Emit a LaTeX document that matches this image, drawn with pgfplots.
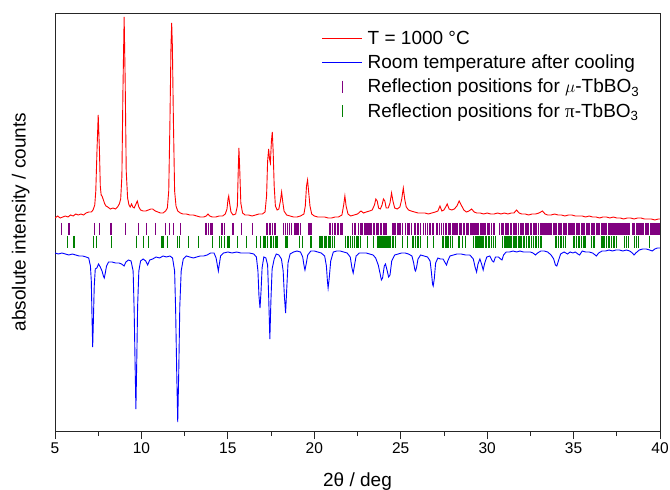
\documentclass[border=0pt]{standalone}
\usepackage{fontspec}
\setmainfont{Liberation Sans}
\newfontfamily\serifgreek{Liberation Serif}
\usepackage{pgfplots}
\pgfplotsset{compat=1.18}
\usepackage{pgfplotstable}
\definecolor{tickpurple}{RGB}{128,0,128}
\definecolor{tickgreen}{RGB}{0,128,0}
\pgfplotsset{
  redline/.style={legend image code/.code={\draw[red, line width=0.7pt] (0pt,0pt) -- (40pt,0pt);}},
  blueline/.style={legend image code/.code={\draw[blue, line width=0.7pt] (0pt,0pt) -- (40pt,0pt);}},
  tickmark/.style={legend image code/.code={\draw[mark repeat=2,mark phase=2,##1] plot coordinates {(0pt,0pt) (20pt,0pt) (40pt,0pt)};}},
}

\pgfplotstableread{
x y
5.00 213
5.15 215
5.30 213
5.45 214
5.60 215
5.75 214
5.90 216
6.05 215
6.20 217
6.35 216
6.50 217
6.65 216
6.80 218
6.95 219
7.10 219
7.20 221
7.30 226
7.36 240
7.43 281
7.50 316
7.57 281
7.62 245
7.67 236
7.72 235
7.80 231
7.88 227
7.95 225
8.05 224
8.20 222
8.35 223
8.50 222
8.62 224
8.72 227
8.80 232
8.87 255
8.93 340
9.00 414
9.06 350
9.12 260
9.20 233
9.28 226
9.35 224
9.43 227
9.50 224
9.58 223
9.66 226
9.76 230
9.85 224
9.95 221
10.10 220
10.25 220
10.40 221
10.55 222
10.65 222
10.80 220
10.95 219
11.10 218
11.25 218
11.40 220
11.50 223
11.58 240
11.65 310
11.71 385
11.75 408
11.79 385
11.85 310
11.92 240
12.00 225
12.10 220
12.25 218
12.40 217
12.60 217
12.80 216
13.00 216
13.20 215
13.40 214
13.60 214
13.75 215
13.85 217
13.95 215
14.10 214
14.30 214
14.50 215
14.70 215
14.85 217
14.95 222
15.01 232
15.05 235
15.10 228
15.18 219
15.30 216
15.45 217
15.55 225
15.60 260
15.64 283
15.69 260
15.75 228
15.85 218
16.00 216
16.20 216
16.40 215
16.60 216
16.80 217
17.00 217
17.15 219
17.24 235
17.30 270
17.36 282
17.41 272
17.46 268
17.52 290
17.57 299
17.62 280
17.68 245
17.75 225
17.85 221
17.95 222
18.04 230
18.11 239
18.17 230
18.25 220
18.40 216
18.60 215
18.80 214
19.00 214
19.20 215
19.40 217
19.48 225
19.55 245
19.61 251
19.67 240
19.75 225
19.85 217
20.00 215
20.20 214
20.40 214
20.60 214
20.80 213
21.00 213
21.20 214
21.40 214
21.60 216
21.70 226
21.77 235
21.84 225
21.95 217
22.10 215
22.30 216
22.50 217
22.70 220
22.85 218
23.00 219
23.20 220
23.35 221
23.48 226
23.56 232
23.64 230
23.72 223
23.82 222
23.92 226
24.00 232
24.08 230
24.16 223
24.28 223
24.38 228
24.47 238
24.55 230
24.65 223
24.80 222
24.95 224
25.05 231
25.15 243
25.23 232
25.32 224
25.45 221
25.60 220
25.80 219
26.00 218
26.20 218
26.40 218
26.60 217
26.80 218
27.00 219
27.15 220
27.27 225
27.38 220
27.50 221
27.60 224
27.69 227
27.80 222
27.95 221
28.10 222
28.25 225
28.38 230
28.50 226
28.65 221
28.80 219
28.95 220
29.10 222
29.25 219
29.40 218
29.60 218
29.80 217
30.00 218
30.20 217
30.40 217
30.60 218
30.80 217
31.00 218
31.20 217
31.40 218
31.55 218
31.70 221
31.85 218
32.00 217
32.20 217
32.40 216
32.60 217
32.80 217
33.00 218
33.20 220
33.35 217
33.50 216
33.70 216
33.90 217
34.10 216
34.30 216
34.50 215
34.70 216
34.90 216
35.10 215
35.30 215
35.50 215
35.70 214
35.90 215
36.10 214
36.30 214
36.50 213
36.70 214
36.90 214
37.10 213
37.30 214
37.50 213
37.70 213
37.90 212
38.10 213
38.30 213
38.50 212
38.70 213
38.90 213
39.10 212
39.30 212
39.50 212
39.70 211
39.90 212
40.00 212
}\redtable

\pgfplotstableread{
x y
5.00 178
5.20 177
5.40 178
5.60 177
5.80 176
6.00 177
6.20 176
6.40 175
6.60 175
6.80 174
6.95 173
7.05 165
7.10 150
7.14 115
7.18 84
7.22 110
7.27 145
7.33 162
7.42 163
7.52 167
7.62 164
7.72 160
7.80 155
7.85 153
7.91 158
7.98 165
8.10 169
8.30 169
8.50 168
8.70 168
8.85 167
9.00 165
9.10 169
9.25 171
9.40 170
9.52 160
9.58 120
9.63 70
9.68 22
9.73 70
9.78 125
9.85 160
9.95 170
10.10 172
10.25 170
10.36 166
10.48 171
10.65 172
10.85 174
11.05 173
11.25 175
11.45 174
11.65 175
11.80 173
11.92 160
11.98 120
12.04 60
12.10 9
12.16 60
12.22 125
12.30 160
12.42 172
12.60 175
12.80 174
13.00 173
13.20 174
13.40 175
13.60 175
13.80 176
14.00 178
14.20 178
14.32 173
14.40 165
14.45 160
14.50 166
14.58 175
14.75 178
15.00 179
15.25 178
15.50 179
15.75 178
16.00 178
16.25 178
16.50 177
16.65 174
16.74 160
16.80 135
16.86 123
16.92 140
16.98 163
17.08 174
17.20 173
17.30 166
17.36 135
17.43 92
17.49 130
17.56 162
17.68 172
17.80 177
17.95 176
18.10 172
18.20 160
18.27 135
18.34 118
18.40 140
18.48 168
18.60 177
18.80 179
19.00 180
19.20 179
19.33 174
19.40 166
19.46 161
19.52 166
19.62 176
19.80 180
20.00 180
20.20 179
20.40 178
20.60 175
20.70 165
20.76 150
20.80 143
20.86 152
20.95 170
21.10 179
21.30 180
21.50 180
21.70 179
21.90 178
22.08 174
22.18 163
22.25 158
22.32 165
22.42 175
22.60 178
22.80 178
23.00 178
23.20 177
23.40 176
23.55 173
23.70 166
23.80 158
23.88 151
23.95 153
24.05 165
24.12 167
24.22 160
24.30 154
24.38 156
24.48 170
24.65 176
24.85 177
25.05 178
25.25 178
25.45 177
25.65 175
25.75 168
25.82 161
25.86 160
25.92 164
26.00 172
26.15 176
26.35 175
26.55 174
26.70 170
26.78 158
26.84 147
26.88 145
26.94 152
27.02 168
27.15 173
27.30 172
27.45 172
27.58 168
27.65 166
27.72 170
27.85 175
28.05 176
28.25 177
28.50 177
28.75 176
29.00 176
29.20 172
29.30 164
29.39 159
29.47 167
29.58 172
29.68 167
29.77 161
29.86 168
29.98 174
30.15 175
30.30 170
30.38 169
30.48 174
30.65 174
30.78 172
30.86 171
30.95 176
31.10 179
31.30 179
31.50 180
31.70 179
31.90 180
32.10 179
32.30 179
32.50 179
32.65 178
32.80 176
32.92 178
33.10 180
33.30 180
33.50 179
33.70 176
33.85 172
33.95 166
34.03 165
34.12 170
34.25 177
34.45 179
34.65 177
34.80 179
34.96 178
35.10 179
35.25 177
35.35 176
35.50 180
35.70 179
35.90 179
36.10 178
36.25 176
36.32 175
36.45 178
36.65 180
36.85 180
37.05 181
37.25 180
37.45 181
37.65 181
37.85 180
38.05 181
38.25 180
38.40 178
38.50 176
38.60 178
38.80 181
39.00 182
39.20 182
39.40 181
39.55 180
39.70 182
39.85 183
40.00 183
}\bluetable

\pgfplotstableread[row sep=\\]{
x y\\
5.39 202\\ 5.81 202\\ 7.31 202\\ 7.60 202\\ 8.24 202\\ 9.09 202\\ 9.82 202\\ 10.30 202\\ 10.82 202\\
11.38 202\\ 11.63 202\\ 11.88 202\\ 12.27 202\\ 13.72 202\\ 13.79 202\\ 13.89 202\\ 13.97 202\\ 14.08 202\\
14.62 202\\ 14.70 202\\ 14.81 202\\ 15.30 202\\ 15.78 202\\ 16.45 202\\ 17.22 202\\ 17.30 202\\ 17.40 202\\
17.49 202\\ 17.58 202\\ 17.70 202\\ 17.78 202\\ 18.23 202\\ 18.33 202\\ 18.45 202\\ 18.55 202\\ 18.68 202\\
18.84 202\\ 18.92 202\\ 19.00 202\\ 19.10 202\\ 19.19 202\\ 19.65 202\\ 19.75 202\\ 19.85 202\\ 20.86 202\\
20.96 202\\ 21.06 202\\ 21.15 202\\ 21.25 202\\ 21.37 202\\ 21.50 202\\ 21.58 202\\ 21.64 202\\ 22.22 202\\
22.32 202\\ 22.41 202\\ 22.55 202\\ 22.70 202\\ 22.80 202\\ 22.90 202\\ 22.97 202\\ 23.05 202\\ 23.12 202\\
23.20 202\\ 23.28 202\\ 23.42 202\\ 23.50 202\\ 23.58 202\\ 23.66 202\\ 23.74 202\\ 23.82 202\\ 23.90 202\\
23.98 202\\ 24.07 202\\ 24.15 202\\ 24.52 202\\ 24.61 202\\ 24.70 202\\ 24.80 202\\ 24.90 202\\ 24.98 202\\
25.10 202\\ 25.28 202\\ 25.40 202\\ 25.48 202\\ 25.60 202\\ 25.80 202\\ 25.86 202\\ 25.95 202\\ 26.05 202\\
26.15 202\\ 26.30 202\\ 26.44 202\\ 26.55 202\\ 26.65 202\\ 26.73 202\\ 26.82 202\\ 26.92 202\\ 27.05 202\\
27.15 202\\ 27.25 202\\ 27.35 202\\ 27.45 202\\ 27.50 202\\ 27.58 202\\ 27.66 202\\ 27.74 202\\ 27.82 202\\
27.90 202\\ 27.98 202\\ 28.06 202\\ 28.14 202\\ 28.22 202\\ 28.30 202\\ 28.38 202\\ 28.46 202\\ 28.54 202\\
28.62 202\\ 28.70 202\\ 28.78 202\\ 28.86 202\\ 28.94 202\\ 29.02 202\\ 29.10 202\\ 29.18 202\\ 29.26 202\\
29.34 202\\ 29.41 202\\ 29.50 202\\ 29.60 202\\ 29.68 202\\ 29.76 202\\ 29.84 202\\ 29.92 202\\ 30.00 202\\
30.08 202\\ 30.16 202\\ 30.27 202\\ 30.35 202\\ 30.43 202\\ 30.74 202\\ 30.82 202\\ 30.89 202\\ 30.95 202\\
31.04 202\\ 31.12 202\\ 31.19 202\\ 31.24 202\\ 31.33 202\\ 31.43 202\\ 31.50 202\\ 31.58 202\\ 31.65 202\\
31.72 202\\ 31.80 202\\ 31.91 202\\ 31.98 202\\ 32.05 202\\ 32.11 202\\ 32.20 202\\ 32.28 202\\ 32.34 202\\
32.40 202\\ 32.49 202\\ 32.59 202\\ 32.66 202\\ 32.74 202\\ 32.81 202\\ 32.88 202\\ 32.97 202\\ 33.07 202\\
33.14 202\\ 33.22 202\\ 33.29 202\\ 33.36 202\\ 33.45 202\\ 33.52 202\\ 33.58 202\\ 33.65 202\\ 33.74 202\\
33.84 202\\ 33.91 202\\ 33.97 202\\ 34.03 202\\ 34.11 202\\ 34.19 202\\ 34.25 202\\ 34.32 202\\ 34.40 202\\
34.47 202\\ 34.54 202\\ 34.61 202\\ 34.69 202\\ 34.76 202\\ 34.80 202\\ 34.88 202\\ 34.96 202\\ 35.02 202\\
35.07 202\\ 35.15 202\\ 35.22 202\\ 35.29 202\\ 35.36 202\\ 35.44 202\\ 35.51 202\\ 35.58 202\\ 35.65 202\\
35.73 202\\ 35.80 202\\ 35.87 202\\ 35.94 202\\ 36.02 202\\ 36.09 202\\ 36.16 202\\ 36.23 202\\ 36.31 202\\
36.38 202\\ 36.45 202\\ 36.52 202\\ 36.60 202\\ 36.66 202\\ 36.71 202\\ 36.79 202\\ 36.86 202\\ 36.93 202\\
37.00 202\\ 37.08 202\\ 37.15 202\\ 37.22 202\\ 37.29 202\\ 37.37 202\\ 37.44 202\\ 37.51 202\\ 37.58 202\\
37.66 202\\ 37.73 202\\ 37.80 202\\ 37.87 202\\ 37.95 202\\ 38.02 202\\ 38.09 202\\ 38.16 202\\ 38.23 202\\
38.42 202\\ 38.49 202\\ 38.55 202\\ 38.62 202\\ 38.68 202\\ 38.74 202\\ 38.81 202\\ 38.87 202\\ 38.93 202\\
39.00 202\\ 39.07 202\\ 39.14 202\\ 39.22 202\\ 39.29 202\\ 39.36 202\\ 39.43 202\\ 39.51 202\\ 39.58 202\\
39.64 202\\ 39.70 202\\ 39.77 202\\ 39.83 202\\ 39.89 202\\ 39.95 202\\
}\mutable

\pgfplotstableread[row sep=\\]{
x y\\
5.73 189\\ 6.10 189\\ 7.22 189\\ 7.41 189\\ 8.28 189\\ 9.72 189\\ 10.11 189\\ 10.40 189\\ 11.19 189\\
11.30 189\\ 11.50 189\\ 12.11 189\\ 12.21 189\\ 12.73 189\\ 13.31 189\\ 14.10 189\\ 14.53 189\\ 14.62 189\\
14.81 189\\ 15.01 189\\ 15.10 189\\ 15.58 189\\ 16.07 189\\ 16.64 189\\ 16.90 189\\ 17.07 189\\ 17.14 189\\
17.20 189\\ 17.30 189\\ 17.45 189\\ 17.55 189\\ 17.65 189\\ 17.75 189\\ 17.84 189\\ 18.36 189\\ 18.42 189\\
19.13 189\\ 19.33 189\\ 19.81 189\\ 20.29 189\\ 20.36 189\\ 20.43 189\\ 20.50 189\\ 20.58 189\\ 20.66 189\\
20.73 189\\ 20.80 189\\ 20.87 189\\ 20.96 189\\ 21.06 189\\ 21.19 189\\ 21.83 189\\ 21.90 189\\ 21.96 189\\
22.08 189\\ 22.22 189\\ 22.35 189\\ 22.43 189\\ 22.51 189\\ 22.58 189\\ 22.66 189\\ 23.10 189\\ 23.41 189\\
23.64 189\\ 23.72 189\\ 23.80 189\\ 23.87 189\\ 23.93 189\\ 24.00 189\\ 24.07 189\\ 24.15 189\\ 24.22 189\\
24.32 189\\ 24.40 189\\ 24.51 189\\ 24.60 189\\ 24.70 189\\ 25.09 189\\ 25.38 189\\ 25.67 189\\ 25.76 189\\
25.86 189\\ 25.95 189\\ 26.05 189\\ 26.15 189\\ 26.53 189\\ 26.92 189\\ 27.40 189\\ 27.48 189\\ 27.60 189\\
27.68 189\\ 27.79 189\\ 27.88 189\\ 27.98 189\\ 28.37 189\\ 28.56 189\\ 28.75 189\\ 29.22 189\\ 29.30 189\\
29.41 189\\ 29.48 189\\ 29.56 189\\ 29.63 189\\ 29.70 189\\ 29.78 189\\ 29.89 189\\ 29.97 189\\ 30.08 189\\
30.16 189\\ 30.27 189\\ 30.36 189\\ 30.47 189\\ 30.91 189\\ 30.98 189\\ 31.05 189\\ 31.10 189\\ 31.17 189\\
31.24 189\\ 31.32 189\\ 31.43 189\\ 31.50 189\\ 31.56 189\\ 31.62 189\\ 31.70 189\\ 31.82 189\\ 31.90 189\\
32.01 189\\ 32.10 189\\ 32.18 189\\ 32.30 189\\ 32.38 189\\ 32.47 189\\ 32.59 189\\ 32.68 189\\ 32.78 189\\
32.86 189\\ 32.98 189\\ 33.07 189\\ 33.17 189\\ 33.94 189\\ 34.02 189\\ 34.13 189\\ 34.22 189\\ 34.32 189\\
34.41 189\\ 34.51 189\\ 34.98 189\\ 35.07 189\\ 35.17 189\\ 35.26 189\\ 35.36 189\\ 35.45 189\\ 35.55 189\\
35.63 189\\ 35.71 189\\ 36.04 189\\ 36.13 189\\ 36.23 189\\ 36.62 189\\ 36.70 189\\ 36.80 189\\ 36.91 189\\
37.00 189\\ 37.10 189\\ 37.20 189\\ 37.29 189\\ 37.39 189\\ 37.49 189\\ 37.97 189\\ 38.06 189\\ 38.16 189\\
38.55 189\\ 38.64 189\\ 38.74 189\\ 39.41 189\\
}\pitable

\begin{document}
\begin{tikzpicture}
\begin{axis}[
  scale only axis,
  width=605pt, height=418pt,
  xmin=5, xmax=40, ymin=0, ymax=418,
  xtick={5,10,...,40},
  minor x tick num=1,
  ytick=\empty,
  xtick pos=bottom,
  tick align=outside,
  major tick length=8pt,
  minor tick length=5pt,
  axis line style={black!85, line width=0.8pt},
  every tick/.style={black!85, line width=0.8pt},
  /pgf/number format/assume math mode=true,
  tick label style={font=\fontsize{15.5}{18}\selectfont},
  label style={font=\fontsize{19}{22}\selectfont},
  xlabel={2θ / deg},
  ylabel={absolute intensity / counts},
  xlabel shift=12pt,
  ylabel shift=14pt,
  legend style={draw=none, fill=none, font=\fontsize{19}{22}\selectfont,
    at={(0.441,0.962)}, anchor=north west, inner sep=0pt,
    row sep=5pt, column sep=3pt, cells={anchor=west}},
  legend cell align=left,
]
\addplot[red, line width=0.9pt, redline] table[x=x,y=y] {\redtable};
\addlegendentry{T = 1000 °C}
\addplot[blue, line width=0.9pt, blueline] table[x=x,y=y] {\bluetable};
\addlegendentry{Room temperature after cooling}
\addplot[tickpurple, only marks, mark=|, mark size=6pt,
  mark options={line width=1.1pt}, tickmark] table[x=x, y=y] {\mutable};
\addlegendentry{Reflection positions for $\mu$-TbBO\textsubscript{3}}
\addplot[tickgreen, only marks, mark=|, mark size=6pt,
  mark options={line width=1.1pt}, tickmark] table[x=x, y=y] {\pitable};
\addlegendentry{Reflection positions for {\serifgreek π}-TbBO\textsubscript{3}}
\end{axis}
\pgfresetboundingbox
\path (current axis.south west) ++(-55pt,-58pt) rectangle ([shift={(10pt,13pt)}]current axis.north east);
\end{tikzpicture}
\end{document}
